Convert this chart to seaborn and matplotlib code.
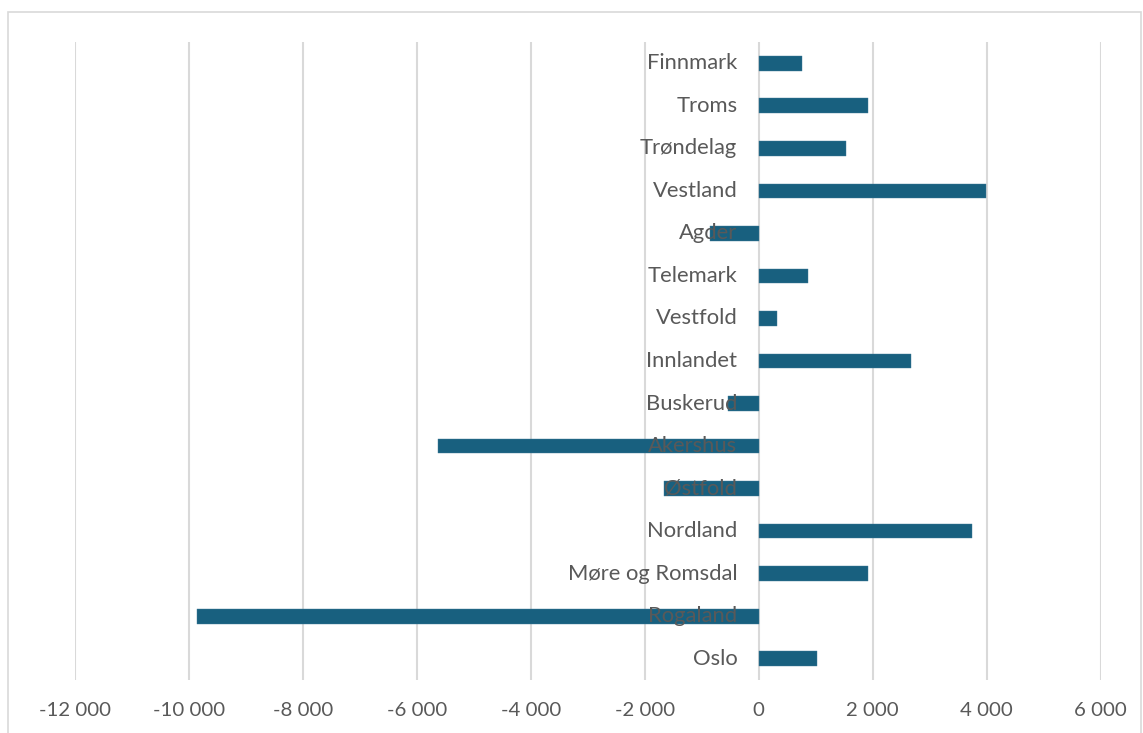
import matplotlib
matplotlib.use("Agg")
import matplotlib.pyplot as plt
import matplotlib.ticker as mticker
from matplotlib.patches import Rectangle
import seaborn as sns
import pandas as pd

# Regional values, listed top to bottom
regions = ["Finnmark", "Troms", "Trøndelag", "Vestland", "Agder", "Telemark",
           "Vestfold", "Innlandet", "Buskerud", "Akershus", "Østfold",
           "Nordland", "Møre og Romsdal", "Rogaland", "Oslo"]
values = [750, 1925, 1535, 3995, -860, 860,
          315, 2665, -540, -5630, -1660,
          3745, 1910, -9860, 1025]
x_ticks = list(range(-12000, 6001, 2000))

BAR = "#18607F"
GRID = "#D9D9D9"
TEXT = "#595959"

sns.set_theme(style="white")
plt.rcParams["font.family"] = ["Lato", "DejaVu Sans"]

df = pd.DataFrame({"region": regions, "value": values})

fig = plt.figure(figsize=(11.43, 7.33), dpi=100)
ax = fig.add_axes([75 / 1143, 1 - 680 / 733, (1100.7 - 75) / 1143, (680 - 42) / 733])

sns.barplot(data=df, x="value", y="region", order=regions, orient="h",
            color=BAR, saturation=1, width=0.345, ax=ax,
            edgecolor="#3f7b98", linewidth=0.3)

ax.set_xlim(x_ticks[0], x_ticks[-1])
ax.set_xticks(x_ticks)
ax.xaxis.set_major_formatter(
    mticker.FuncFormatter(lambda v, _: f"{int(v):,}".replace(",", " ")))
ax.tick_params(axis="x", length=0, pad=16, labelsize=14.7, labelcolor=TEXT)
ax.set_yticks([])
ax.set_xlabel("")
ax.set_ylabel("")

ax.set_axisbelow(True)
ax.grid(axis="x", color=GRID, linewidth=1.5)
ax.grid(axis="y", visible=False)
for s in ax.spines.values():
    s.set_visible(False)

# Category names sit just left of the zero line, above the bars
for i, name in enumerate(regions):
    ax.annotate(name, xy=(0, i), xytext=(-15.5, 0), textcoords="offset points",
                ha="right", va="center", fontsize=15.8, color=TEXT, zorder=5)

# Light frame around the chart area
fig.patches.append(Rectangle((8 / 1143, -0.05), 1133 / 1143, 1.05 - 12 / 733,
                             transform=fig.transFigure, fill=False,
                             edgecolor=GRID, linewidth=1.2))

fig.savefig("out.png", dpi=100)
